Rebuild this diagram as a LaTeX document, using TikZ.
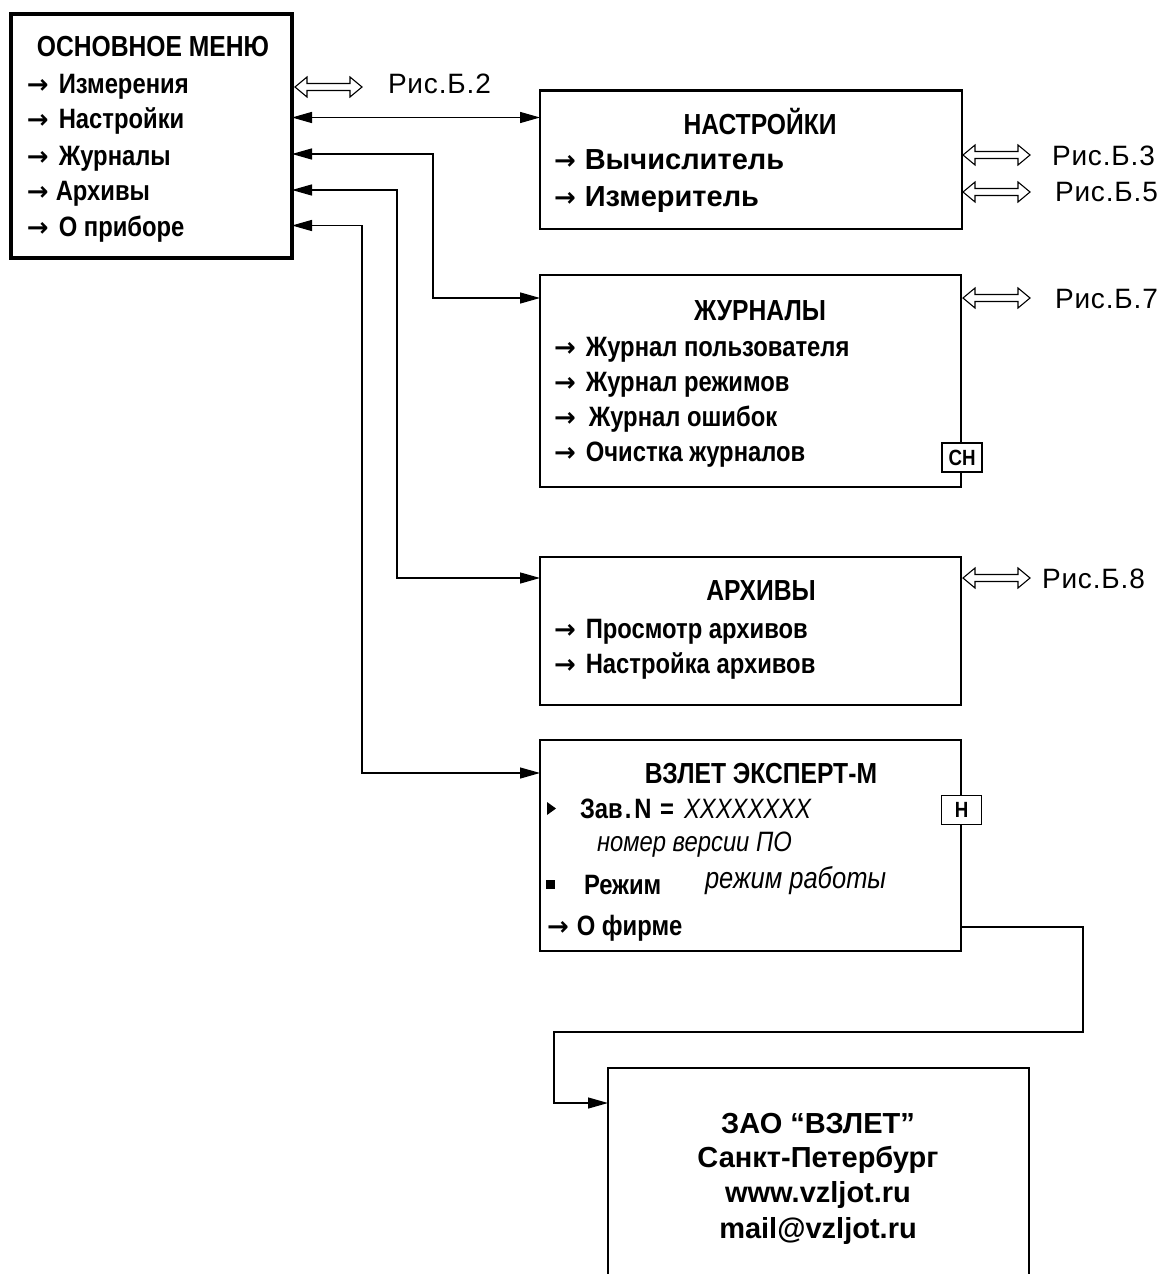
\documentclass[tikz,border=0pt]{standalone}
\usepackage{fontspec}
\setmainfont{Liberation Sans}
\newfontfamily\nar[FakeStretch=0.85]{Liberation Sans}
\newfontfamily\risfont[LetterSpace=3]{Liberation Sans}
\newfontfamily\arrfont{DejaVu Sans}
\newcommand\rarr{{\arrfont\fontsize{26}{28}\selectfont →}}
\usetikzlibrary{arrows.meta,calc}
\begin{document}
\begin{tikzpicture}[x=1pt,y=-1pt,
  every node/.style={inner sep=0pt, outer sep=0pt},
  box/.style={draw, line width=2.4pt},
  mainbox/.style={draw, line width=4pt},
  conn/.style={line width=1.3pt},
  tipend/.style={-{Triangle[length=20pt,width=11pt]}},
  bothends/.style={{Triangle[length=20pt,width=11pt]}-{Triangle[length=20pt,width=11pt]}},
  itm/.style={anchor=base west, font=\nar\bfseries\fontsize{28}{32}\selectfont},
  ttl/.style={anchor=base, font=\nar\bfseries\fontsize{29}{32}\selectfont},
  bigitm/.style={anchor=base west, font=\bfseries\fontsize{29}{34}\selectfont},
  ital/.style={anchor=base west, font=\nar\itshape\fontsize{28}{32}\selectfont},
  zaotxt/.style={anchor=base, font=\bfseries\fontsize{29}{34}\selectfont},
  rislbl/.style={anchor=base west, font=\risfont\fontsize{28}{32}\selectfont},
  acc/.style={draw, line width=1.8pt, fill=white, font=\nar\bfseries\fontsize{22}{24}\selectfont, minimum width=40pt, minimum height=29pt},
  dbl/.pic={\draw[line width=1.1pt, fill=white, line join=miter]
     (0,0) -- (12,-10) -- (12,-3.5) -- (55,-3.5) -- (55,-10) -- (67,0) -- (55,10) -- (55,3.5) -- (12,3.5) -- (12,10) -- cycle;}
]
\useasboundingbox (0,0) rectangle (1164,1274);
\fill[white] (0,0) rectangle (1164,1274);

% ---------- boxes ----------
\node[mainbox, minimum width=281.5pt, minimum height=244pt, anchor=north west] (mm) at (10.5,14) {};
\node[box, minimum width=422pt, minimum height=138.5pt, anchor=north west] (nast) at (540,90.5) {};
\node[box, minimum width=421pt, minimum height=212pt, anchor=north west] (jur) at (540,275) {};
\node[box, minimum width=421pt, minimum height=148pt, anchor=north west] (arh) at (540,557) {};
\node[box, minimum width=421pt, minimum height=211pt, anchor=north west] (vz) at (540,740) {};
\begin{scope}
  \clip (0,0) rectangle (1164,1274);
  \node[box, minimum width=421pt, minimum height=300pt, anchor=north west] (zao) at (608,1068) {};
\end{scope}

% ---------- main menu text ----------
\node[ttl] (mtitle) at (153,56) {ОСНОВНОЕ МЕНЮ};
\node[itm] (mi1) at (27,93) {\rarr\hspace{10pt}Измерения};
\node[itm] (mi2) at (27,128) {\rarr\hspace{10pt}Настройки};
\node[itm] (mi3) at (27,165) {\rarr\hspace{10pt}Журналы};
\node[itm] (mi4) at (27,200) {\rarr\hspace{7pt}Архивы};
\node[itm] (mi5) at (27,236) {\rarr\hspace{10pt}О приборе};

% ---------- Настройки ----------
\node[ttl] (ntitle) at (760,134) {НАСТРОЙКИ};
\node[bigitm] (ni1) at (554,169) {\rarr\hspace{9pt}Вычислитель};
\node[bigitm] (ni2) at (554,206) {\rarr\hspace{9pt}Измеритель};

% ---------- Журналы ----------
\node[ttl] (jtitle) at (760,320) {ЖУРНАЛЫ};
\node[itm] (ji1) at (554,356) {\rarr\hspace{10pt}Журнал пользователя};
\node[itm] (ji2) at (554,391) {\rarr\hspace{10pt}Журнал режимов};
\node[itm] (ji3) at (554,426) {\rarr\hspace{13pt}Журнал ошибок};
\node[itm] (ji4) at (554,461) {\rarr\hspace{10pt}Очистка журналов};
\node[acc] (ch) at (962,457.5) {СН};

% ---------- Архивы ----------
\node[ttl] (atitle) at (761,600) {АРХИВЫ};
\node[itm] (ai1) at (554,638) {\rarr\hspace{10pt}Просмотр архивов};
\node[itm] (ai2) at (554,673) {\rarr\hspace{10pt}Настройка архивов};

% ---------- ВЗЛЕТ ЭКСПЕРТ-М ----------
\node[ttl] (vtitle) at (761,783) {ВЗЛЕТ ЭКСПЕРТ-М};
\fill (547,802) -- (547,815) -- (556,808.5) -- cycle;
\node[itm] (vi1) at (580,818) {Зав\hspace{2pt}.\hspace{3pt}N\hspace{2pt} =\hspace{10pt}{\mdseries\itshape XXXXXXXX}};
\node[ital] (vi2) at (597,851) {номер версии ПО};
\fill (546,880) rectangle (555,889);
\node[itm] (vi3) at (584,894) {Режим};
\node[ital, font=\nar\itshape\fontsize{30}{32}\selectfont] (vi4) at (705,888) {режим работы};
\node[itm] (vi5) at (547,935) {\rarr\hspace{8pt}О фирме};
\node[acc] (hh) at (961.5,810) {Н};

% ---------- ЗАО ----------
\node[zaotxt] (z1) at (818,1133) {ЗАО “ВЗЛЕТ”};
\node[zaotxt] (z2) at (818,1167) {Санкт-Петербург};
\node[zaotxt] (z3) at (818,1202) {www.vzljot.ru};
\node[zaotxt] (z4) at (818,1238) {mail@vzljot.ru};

% ---------- references ----------
\coordinate (yI) at (0,87);
\pic at ($(mm.east |- yI)+(3,0)$) {dbl};
\node[rislbl] (r2) at (388,93) {Рис.Б.2};
\pic at (963,155) {dbl};
\node[rislbl] (r3) at (1052,165) {Рис.Б.3};
\pic at (963,192) {dbl};
\node[rislbl] (r5) at (1055,201) {Рис.Б.5};
\pic at (963,298) {dbl};
\node[rislbl] (r7) at (1055,308) {Рис.Б.7};
\pic at (963,578) {dbl};
\node[rislbl] (r8) at (1042,588) {Рис.Б.8};

% ---------- connectors ----------
\coordinate (yN) at (0,117.5);
\draw[conn,bothends] (mm.east |- yN) -- (nast.west |- yN);
\coordinate (yJ) at (0,154);
\coordinate (tJ) at (433,298);
\draw[conn,bothends] (mm.east |- yJ) -| (tJ) -- (jur.west |- tJ);
\coordinate (yA) at (0,190);
\coordinate (tA) at (397,578);
\draw[conn,bothends] (mm.east |- yA) -| (tA) -- (arh.west |- tA);
\coordinate (yP) at (0,225.5);
\coordinate (tP) at (362,773);
\draw[conn,bothends] (mm.east |- yP) -| (tP) -- (vz.west |- tP);
\coordinate (yF) at (0,927);
\coordinate (c1) at (1083,1032);
\coordinate (c2) at (554,1103);
\draw[conn,tipend] (vz.east |- yF) -| (c1) -| (c2) -- (zao.west |- c2);
\end{tikzpicture}
\end{document}
